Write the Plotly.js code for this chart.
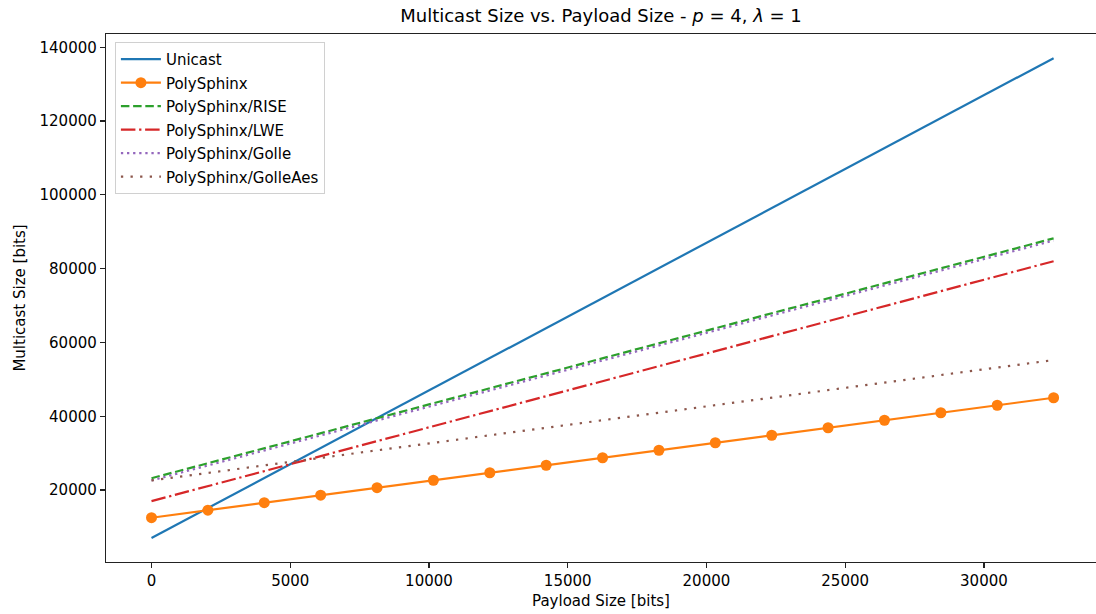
<!DOCTYPE html>
<html>
<head>
<meta charset="utf-8">
<script src="https://cdn.plot.ly/plotly-3.0.1.min.js"></script>
<style>html,body{margin:0;padding:0;background:#fff;}#chart{width:1096px;height:614px;}</style>
</head>
<body>
<div id="chart"></div>
<script>
const payload = [0, 2032, 4064, 6096, 8128, 10160, 12192, 14224, 16256, 18288, 20320, 22352, 24384, 26416, 28448, 30480, 32512];
const unicast = [7000, 15128, 23256, 31384, 39512, 47640, 55768, 63896, 72024, 80152, 88280, 96408, 104536, 112664, 120792, 128920, 137048];
const polySphinx = [12500, 14532, 16564, 18596, 20628, 22660, 24692, 26724, 28756, 30788, 32820, 34852, 36884, 38916, 40948, 42980, 45012];
const polySphinxRise = [23200, 27264, 31328, 35392, 39456, 43520, 47584, 51648, 55712, 59776, 63840, 67904, 71968, 76032, 80096, 84160, 88224];
const polySphinxLwe = [17000, 21064, 25128, 29192, 33256, 37320, 41384, 45448, 49512, 53576, 57640, 61704, 65768, 69832, 73896, 77960, 82024];
const polySphinxGolle = [22600, 26664, 30728, 34792, 38856, 42920, 46984, 51048, 55112, 59176, 63240, 67304, 71368, 75432, 79496, 83560, 87624];
const polySphinxGolleAes = [22600, 24640, 26680, 28720, 30760, 32800, 34840, 36880, 38920, 40960, 43000, 45040, 47080, 49120, 51160, 53200, 55240];

const seriesNames = ["Unicast", "PolySphinx", "PolySphinx/RISE", "PolySphinx/LWE", "PolySphinx/Golle", "PolySphinx/GolleAes"];

const lw = 2.2;
const traces = [
  {x: payload, y: unicast, name: seriesNames[0], legendgroup: "g0", mode: "lines", line: {color: "#1f77b4", width: lw}},
  {x: payload, y: polySphinx, name: seriesNames[1], legendgroup: "g1", mode: "lines+markers", line: {color: "#ff7f0e", width: lw}, marker: {color: "#ff7f0e", size: 11}},
  {x: payload, y: polySphinxRise, name: seriesNames[2], legendgroup: "g2", mode: "lines", line: {color: "#2ca02c", width: lw, dash: "8.5px,3.7px"}},
  {x: payload, y: polySphinxLwe, name: seriesNames[3], legendgroup: "g3", mode: "lines", line: {color: "#d62728", width: lw, dash: "14.5px,3.7px,2.3px,3.7px"}},
  {x: payload, y: polySphinxGolle, name: seriesNames[4], legendgroup: "g4", mode: "lines", line: {color: "#9467bd", width: lw, dash: "2.3px,3.8px"}},
  {x: payload, y: polySphinxGolleAes, name: seriesNames[5], legendgroup: "g5", mode: "lines", line: {color: "#8c564b", width: lw, dash: "2.3px,7.3px"}}
];

const fontFam = "DejaVu Sans, sans-serif";
const layout = {
  width: 1096, height: 614,
  margin: {l: 106, r: 0, t: 34, b: 52},
  paper_bgcolor: "#fff", plot_bgcolor: "#fff",
  font: {family: fontFam, size: 15, color: "#000"},
  title: {text: "Multicast Size vs. Payload Size - <i>p</i> = 4, <i>λ</i> = 1", font: {family: fontFam, size: 18, color: "#000"}, xref: "paper", x: 0.5, xanchor: "center", y: 0.975, yanchor: "middle"},
  xaxis: {
    range: [-1640, 34040], tickmode: "linear", tick0: 0, dtick: 5000, tickformat: "d",
    showgrid: false, zeroline: false, showline: true, mirror: true, linecolor: "#222", linewidth: 1.2,
    ticks: "outside", ticklen: 5, tickwidth: 1.2, tickcolor: "#222",
    tickfont: {family: fontFam, size: 15, color: "#000"},
    title: {text: "Payload Size [bits]", font: {family: fontFam, size: 15, color: "#000"}, standoff: 6}
  },
  yaxis: {
    range: [500, 143600], tickmode: "linear", tick0: 0, dtick: 20000, tickformat: "d",
    showgrid: false, zeroline: false, showline: true, linecolor: "#222", linewidth: 1.2,
    ticks: "outside", ticklen: 5, tickwidth: 1.2, tickcolor: "#222",
    tickfont: {family: fontFam, size: 15, color: "#000"},
    title: {text: "Multicast Size [bits]", font: {family: fontFam, size: 15, color: "#000"}, standoff: 10}
  },
  showlegend: true,
  legend: {
    x: 0.009, y: 0.985, xanchor: "left", yanchor: "top",
    bgcolor: "rgba(255,255,255,0.8)", bordercolor: "#d0d0d0", borderwidth: 1,
    font: {family: fontFam, size: 15, color: "#000"},
    itemwidth: 40, tracegroupgap: 1
  }
};

Plotly.newPlot("chart", traces, layout, {displayModeBar: false, staticPlot: true});
</script>
</body>
</html>
